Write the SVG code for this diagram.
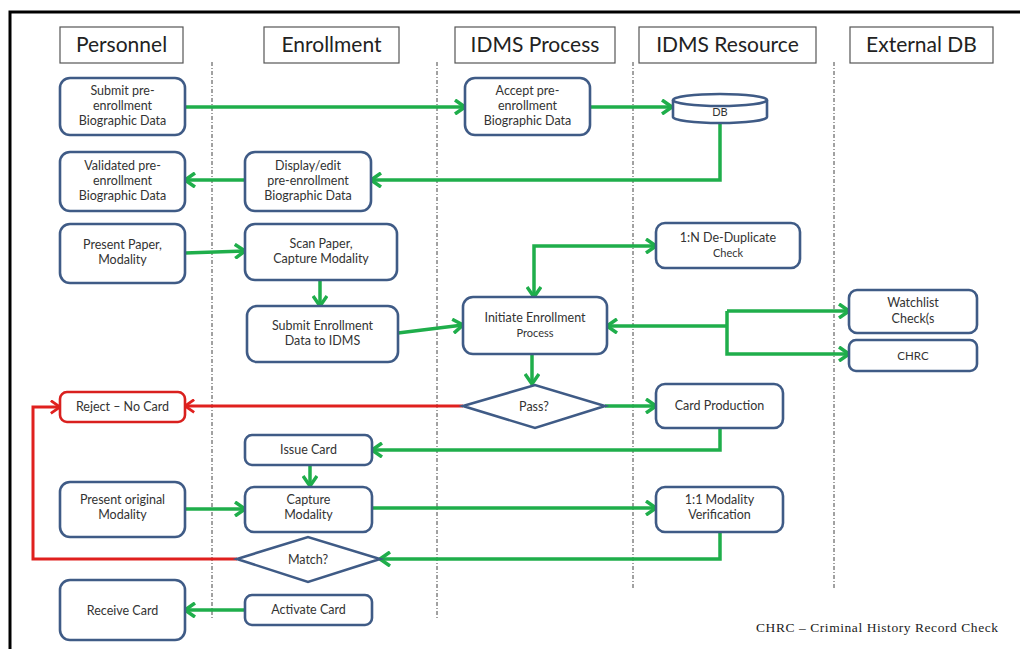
<svg xmlns="http://www.w3.org/2000/svg" width="1020" height="649" viewBox="0 0 1020 649">
  <style>
    .hdr rect { fill: #fff; stroke: #555; stroke-width: 1.2; }
    .hdr text { font-family: Lato, "Open Sans", sans-serif; font-size: 21px; fill: #222; text-anchor: middle; }
    .node rect, .node path, .node polygon, .node ellipse { fill: #fff; stroke: #3f5b86; stroke-width: 2.6; }
    .node text { font-family: Lato, "Open Sans", sans-serif; font-size: 12.5px; fill: #333; text-anchor: middle; }
    .reject rect { stroke: #d9201e; }
    .lane { stroke: #444; stroke-width: 1; stroke-dasharray: 4 2 1 2; fill: none; }
    .g { stroke: #1fae4b; stroke-width: 3.5; fill: none; marker-end: url(#ag); }
    .r { stroke: #e0201e; stroke-width: 3; fill: none; marker-end: url(#ar); }
    .legend { font-family: "Liberation Serif", serif; font-size: 13.5px; fill: #222; }
  </style>
  <defs>
    <marker id="ag" viewBox="0 0 12 16" markerWidth="12" markerHeight="16" refX="11" refY="8" orient="auto-start-reverse" markerUnits="userSpaceOnUse">
      <path d="M1,1 L11,8 L1,15" fill="none" stroke="#1fae4b" stroke-width="3.5"/>
    </marker>
    <marker id="ar" viewBox="0 0 12 16" markerWidth="11" markerHeight="15" refX="11" refY="8" orient="auto" markerUnits="userSpaceOnUse">
      <path d="M1,1 L11,8 L1,15" fill="none" stroke="#e0201e" stroke-width="3"/>
    </marker>
  </defs>

  <rect width="1020" height="649" fill="#fff"/>
  <!-- page frame -->
  <path d="M10,649 L10,12 L1020,12" fill="none" stroke="#000" stroke-width="3"/>

  <!-- swimlane separators -->
  <g id="lanes">
    <line class="lane" x1="212" y1="62" x2="212" y2="618"/>
    <line class="lane" x1="437" y1="62" x2="437" y2="618"/>
    <line class="lane" x1="633" y1="62" x2="633" y2="588"/>
    <line class="lane" x1="834" y1="62" x2="834" y2="588"/>
  </g>

  <!-- lane headers -->
  <g id="headers" class="hdr">
    <g id="hdr-personnel"><rect x="60" y="27" width="123" height="36"/><text x="121.5" y="52">Personnel</text></g>
    <g id="hdr-enrollment"><rect x="264" y="27" width="135" height="36"/><text x="331.5" y="52">Enrollment</text></g>
    <g id="hdr-process"><rect x="455" y="27" width="160" height="36"/><text x="535" y="52">IDMS Process</text></g>
    <g id="hdr-resource"><rect x="639" y="27" width="177" height="36"/><text x="727.5" y="52">IDMS Resource</text></g>
    <g id="hdr-external"><rect x="850" y="27" width="143" height="36"/><text x="921.5" y="52">External DB</text></g>
  </g>

  <!-- connectors -->
  <g id="connectors">
    <path class="g" d="M185,107 L465,107"/>
    <path class="g" d="M590,107 L672,107"/>
    <path class="g" d="M720,122 L720,180 L371,180"/>
    <path class="g" d="M245,180 L185,180"/>
    <path class="g" d="M185,253 L245,251"/>
    <path class="g" d="M320,280 L320,306"/>
    <path class="g" d="M398,333 L463,325"/>
    <path class="g" d="M534,297 L534,246 L656,246" style="marker-start:url(#ag)"/>
    <path class="g" d="M727,326 L607,326"/>
    <path class="g" d="M727,311 L727,354 L849,354"/>
    <path class="g" d="M727,311 L849,311"/>
    <path class="g" d="M532,354 L532,384"/>
    <path class="g" d="M605,406 L656,406"/>
    <path class="r" d="M463,406 L185,406"/>
    <path class="g" d="M720,428 L720,450 L372,450"/>
    <path class="g" d="M310,464 L310,486"/>
    <path class="g" d="M185,509 L245,509"/>
    <path class="g" d="M372,508 L656,508"/>
    <path class="g" d="M720,531 L720,559 L380,559"/>
    <path class="r" d="M237,559 L33,559 L33,407 L60,407"/>
    <path class="g" d="M245,610 L185,610"/>
  </g>

  <!-- nodes -->
  <g id="submit-pre" class="node">
    <rect x="60" y="78" width="125" height="57" rx="10"/>
    <text x="122.5" y="95"><tspan x="122.5">Submit pre-</tspan><tspan x="122.5" dy="15">enrollment</tspan><tspan x="122.5" dy="15">Biographic Data</tspan></text>
  </g>
  <g id="accept-pre" class="node">
    <rect x="465" y="78" width="125" height="57" rx="10"/>
    <text x="527.5" y="95"><tspan x="527.5">Accept pre-</tspan><tspan x="527.5" dy="15">enrollment</tspan><tspan x="527.5" dy="15">Biographic Data</tspan></text>
  </g>
  <g id="db" class="node">
    <path d="M673,100 L673,117 A47,6 0 0 0 767,117 L767,100"/>
    <ellipse cx="720" cy="100" rx="47" ry="6"/>
    <text x="720" y="116" style="font-size:11px">DB</text>
  </g>
  <g id="validated-pre" class="node">
    <rect x="60" y="152" width="125" height="59" rx="10"/>
    <text x="122.5" y="170"><tspan x="122.5">Validated pre-</tspan><tspan x="122.5" dy="15">enrollment</tspan><tspan x="122.5" dy="15">Biographic Data</tspan></text>
  </g>
  <g id="display-edit" class="node">
    <rect x="245" y="152" width="126" height="59" rx="10"/>
    <text x="308" y="170"><tspan x="308">Display/edit</tspan><tspan x="308" dy="15">pre-enrollment</tspan><tspan x="308" dy="15">Biographic Data</tspan></text>
  </g>
  <g id="present-paper" class="node">
    <rect x="60" y="224" width="125" height="59" rx="10"/>
    <text x="122.5" y="249"><tspan x="122.5">Present Paper,</tspan><tspan x="122.5" dy="15">Modality</tspan></text>
  </g>
  <g id="scan-paper" class="node">
    <rect x="245" y="224" width="152" height="56" rx="10"/>
    <text x="321" y="248"><tspan x="321">Scan Paper,</tspan><tspan x="321" dy="15">Capture Modality</tspan></text>
  </g>
  <g id="submit-enrollment" class="node">
    <rect x="247" y="306" width="151" height="56" rx="10"/>
    <text x="322.5" y="330"><tspan x="322.5">Submit Enrollment</tspan><tspan x="322.5" dy="15">Data to IDMS</tspan></text>
  </g>
  <g id="initiate" class="node">
    <rect x="463" y="297" width="144" height="57" rx="10"/>
    <text x="535" y="322"><tspan x="535">Initiate Enrollment</tspan><tspan x="535" dy="15" style="font-size:11px">Process</tspan></text>
  </g>
  <g id="dedup" class="node">
    <rect x="656" y="223" width="144" height="45" rx="9"/>
    <text x="728" y="242"><tspan x="728">1:N De-Duplicate</tspan><tspan x="728" dy="15" style="font-size:11px">Check</tspan></text>
  </g>
  <g id="watchlist" class="node">
    <rect x="849" y="290" width="128" height="43" rx="8"/>
    <text x="913" y="307"><tspan x="913">Watchlist</tspan><tspan x="913" dy="16">Check(s</tspan></text>
  </g>
  <g id="chrc" class="node">
    <rect x="849" y="340" width="128" height="31" rx="7"/>
    <text x="913" y="360" style="font-size:11.5px">CHRC</text>
  </g>
  <g id="pass" class="node">
    <polygon points="463,406 535,385 605,406 535,428"/>
    <text x="534" y="411">Pass?</text>
  </g>
  <g id="card-production" class="node">
    <rect x="656" y="384" width="127" height="44" rx="9"/>
    <text x="719.5" y="410">Card Production</text>
  </g>
  <g id="reject" class="node reject">
    <rect x="60" y="392" width="125" height="30" rx="7"/>
    <text x="122.5" y="411">Reject – No Card</text>
  </g>
  <g id="issue-card" class="node">
    <rect x="245" y="435" width="127" height="30" rx="7"/>
    <text x="308.5" y="454">Issue Card</text>
  </g>
  <g id="present-original" class="node">
    <rect x="60" y="482" width="125" height="55" rx="10"/>
    <text x="122.5" y="504"><tspan x="122.5">Present original</tspan><tspan x="122.5" dy="15">Modality</tspan></text>
  </g>
  <g id="capture-modality" class="node">
    <rect x="245" y="487" width="127" height="45" rx="9"/>
    <text x="308.5" y="504"><tspan x="308.5">Capture</tspan><tspan x="308.5" dy="15">Modality</tspan></text>
  </g>
  <g id="modality-verification" class="node">
    <rect x="656" y="487" width="127" height="45" rx="9"/>
    <text x="719.5" y="504"><tspan x="719.5">1:1 Modality</tspan><tspan x="719.5" dy="15">Verification</tspan></text>
  </g>
  <g id="match" class="node">
    <polygon points="237,559 308,537 380,559 308,582"/>
    <text x="308" y="564">Match?</text>
  </g>
  <g id="receive-card" class="node">
    <rect x="60" y="580" width="125" height="60" rx="10"/>
    <text x="122.5" y="615">Receive Card</text>
  </g>
  <g id="activate-card" class="node">
    <rect x="245" y="595" width="127" height="30" rx="7"/>
    <text x="308.5" y="614">Activate Card</text>
  </g>

  <text class="legend" x="756" y="632" textLength="242" lengthAdjust="spacing">CHRC  – Criminal  History  Record Check</text>
</svg>
